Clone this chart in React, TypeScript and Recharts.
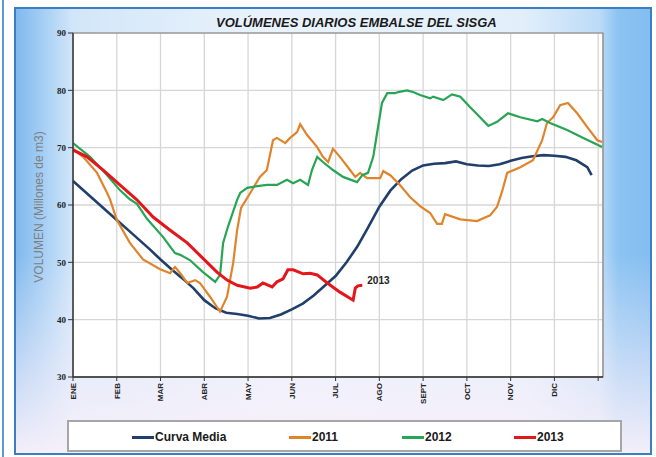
import { LineChart, Line, XAxis, YAxis, CartesianGrid, ReferenceArea } from "recharts";

// meses (eje X en fracción de mes desde 1 de enero)
const MESES = ["ENE", "FEB", "MAR", "ABR", "MAY", "JUN", "JUL", "AGO", "SEPT", "OCT", "NOV", "DIC", ""];
const X_TICKS = [0, 1, 2, 3, 4, 5, 6, 7, 8, 9, 10, 11, 12];
const Y_TICKS = [30, 40, 50, 60, 70, 80, 90];

// Curva Media
const mediaMes = [0, 0.25, 0.5, 0.75, 1, 1.25, 1.5, 1.75, 2, 2.25, 2.5, 2.75, 3, 3.25, 3.5, 3.75, 4, 4.25, 4.5, 4.75, 5, 5.25, 5.5, 5.75, 6, 6.25, 6.5, 6.75, 7, 7.25, 7.5, 7.75, 8, 8.25, 8.5, 8.75, 9, 9.25, 9.5, 9.75, 10, 10.25, 10.5, 10.75, 11, 11.25, 11.5, 11.75, 11.85];
const mediaVol = [64.2, 62.5, 60.8, 59.1, 57.4, 55.7, 54.0, 52.3, 50.5, 48.8, 47.2, 45.5, 43.4, 42.0, 41.2, 41.0, 40.7, 40.2, 40.3, 40.9, 41.8, 42.8, 44.2, 45.9, 47.6, 50.0, 52.8, 56.2, 59.7, 62.5, 64.5, 66.0, 66.9, 67.2, 67.3, 67.6, 67.1, 66.9, 66.8, 67.1, 67.7, 68.2, 68.5, 68.7, 68.6, 68.4, 67.8, 66.6, 65.2];

// 2011
const mes2011 = [0, 0.23, 0.55, 0.78, 0.85, 1.0, 1.3, 1.6, 1.99, 2.22, 2.33, 2.45, 2.61, 2.79, 2.9, 3.13, 3.36, 3.52, 3.66, 3.75, 3.84, 4.05, 4.27, 4.43, 4.57, 4.66, 4.85, 4.96, 5.12, 5.19, 5.35, 5.58, 5.71, 5.83, 5.94, 6.1, 6.33, 6.45, 6.56, 6.72, 7.02, 7.09, 7.25, 7.47, 7.7, 7.93, 8.16, 8.32, 8.43, 8.5, 8.85, 9.23, 9.53, 9.69, 9.81, 9.92, 10.22, 10.51, 10.72, 10.83, 10.97, 11.13, 11.31, 11.52, 11.75, 11.98, 12.09];
const vol2011 = [69.8, 68.4, 65.6, 62.1, 60.9, 57.4, 53.4, 50.5, 48.8, 48.1, 49.2, 48.1, 46.4, 46.9, 46.4, 44.0, 41.4, 44.0, 49.9, 55.6, 59.5, 62.1, 64.9, 66.1, 71.3, 71.7, 70.8, 71.7, 72.7, 74.1, 72.2, 70.1, 68.4, 67.5, 69.8, 68.4, 66.1, 64.9, 65.6, 64.7, 64.7, 65.9, 65.2, 63.5, 61.4, 59.8, 58.6, 56.7, 56.7, 58.4, 57.5, 57.2, 58.2, 59.7, 62.5, 65.6, 66.6, 67.8, 71.3, 74.3, 75.3, 77.4, 77.8, 76.0, 73.6, 71.3, 71.0];

// 2012
const mes2012 = [0, 0.39, 0.78, 1.07, 1.3, 1.46, 1.69, 2.06, 2.33, 2.45, 2.67, 2.97, 3.25, 3.36, 3.43, 3.54, 3.75, 3.82, 3.98, 4.21, 4.43, 4.66, 4.89, 5.03, 5.19, 5.37, 5.46, 5.58, 5.71, 5.94, 6.17, 6.49, 6.61, 6.74, 6.86, 6.97, 7.06, 7.18, 7.36, 7.43, 7.63, 7.77, 7.93, 8.16, 8.23, 8.46, 8.66, 8.85, 9.07, 9.3, 9.49, 9.69, 9.94, 10.22, 10.61, 10.72, 10.9, 11.29, 11.66, 12.09];
const vol2012 = [70.8, 68.4, 65.2, 62.6, 61.0, 60.2, 57.6, 54.4, 51.6, 51.3, 50.4, 48.3, 46.6, 47.8, 53.4, 56.2, 60.9, 62.1, 63.0, 63.3, 63.5, 63.5, 64.4, 63.8, 64.4, 63.5, 66.1, 68.4, 67.5, 66.1, 64.9, 64.0, 65.2, 65.6, 68.4, 73.6, 77.8, 79.5, 79.5, 79.7, 80.0, 79.7, 79.2, 78.6, 78.9, 78.3, 79.3, 78.9, 77.1, 75.3, 73.8, 74.5, 76.0, 75.3, 74.6, 75.0, 74.3, 73.1, 71.7, 70.1];

// 2013
const mes2013 = [0, 0.32, 0.69, 1.07, 1.46, 1.83, 2.22, 2.61, 2.97, 3.29, 3.52, 3.75, 4.05, 4.21, 4.34, 4.55, 4.66, 4.8, 4.91, 5.03, 5.26, 5.42, 5.58, 5.81, 6.1, 6.4, 6.45, 6.51, 6.61];
const vol2013 = [69.6, 68.4, 66.1, 63.5, 60.9, 57.9, 55.6, 53.4, 50.7, 48.3, 46.9, 46.0, 45.5, 45.7, 46.4, 45.7, 46.6, 47.1, 48.7, 48.7, 48.0, 48.1, 47.8, 46.4, 44.8, 43.4, 45.5, 45.9, 46.0];

const zip = (xs: number[], ys: number[]) => xs.map((m, i) => ({ m, v: ys[i] }));

const MonthTick = ({ x, y, payload }: any) => (
  <text
    x={x}
    y={y}
    transform={`rotate(-90 ${x} ${y})`}
    textAnchor="end"
    dy="0.35em"
    fontSize={8}
    fontWeight="bold"
    fontFamily="Liberation Sans, Arial, sans-serif"
    fill="#222"
  >
    {MESES[payload.value]}
  </text>
);

const last2013 = mes2013.length - 1;

const legendItems = [
  { name: "Curva Media", color: "#213f6b", left: 63 },
  { name: "2011", color: "#e0842c", left: 220 },
  { name: "2012", color: "#27a454", left: 333 },
  { name: "2013", color: "#e3161c", left: 445 },
];

export default function App() {
  return (
    <div style={{ position: "absolute", left: 0, top: 0, width: 656, height: 457, background: "#fff", overflow: "hidden" }}>
      <div style={{ position: "absolute", left: 2, top: 0, width: 2, height: 457, background: "#5b9bd5" }} />
      <div
        style={{
          position: "absolute",
          left: 14,
          top: 7,
          width: 638,
          height: 448,
          boxSizing: "border-box",
          border: "2px solid #3a7fc1",
          background:
            "linear-gradient(to bottom, rgba(255,255,255,0) 55%, rgba(247,240,250,0.97) 100%), linear-gradient(to right, #80b9ee 0%, #a2cdf4 4%, #d2e6f9 9%, #eaf3fc 40%, #e2effb 80%, #bcdbf7 92%, #8bc3f2 95%, #84bdf0 100%)",
        }}
      >
        <LineChart width={634} height={444} margin={{ top: 24, right: 47, left: 0, bottom: 0 }}>
          <CartesianGrid stroke="#d6d6d6" strokeWidth={1.3} fill="#ffffff" />
          <ReferenceArea x1={0} x2={12.11} y1={30} y2={90} fill="none" stroke="#808080" strokeWidth={1.2} />
          <XAxis
            type="number"
            dataKey="m"
            domain={[0, 12.11]}
            ticks={X_TICKS}
            interval={0}
            allowDataOverflow
            height={76}
            tick={<MonthTick />}
            tickSize={4}
            tickMargin={2}
            stroke="#333"
            axisLine={{ stroke: "#333", strokeWidth: 1.3 }}
          />
          <YAxis
            type="number"
            domain={[30, 90]}
            ticks={Y_TICKS}
            interval={0}
            width={57}
            tickSize={5}
            tickMargin={2}
            stroke="#333"
            axisLine={{ stroke: "#333", strokeWidth: 1.3 }}
            tick={{ fontSize: 9, fontWeight: "bold", fontFamily: "Liberation Serif, Times New Roman, serif", fill: "#222" }}
            label={{
              content: () => (
                <text
                  x={27}
                  y={198}
                  transform="rotate(-90 27 198)"
                  textAnchor="middle"
                  fontSize={12}
                  fontFamily="Liberation Sans, Arial, sans-serif"
                  fill="#7f7f7f"
                >
                  VOLUMEN (Millones de m3)
                </text>
              ),
            }}
          />
          <Line data={zip(mediaMes, mediaVol)} dataKey="v" stroke="#213f6b" strokeWidth={2.6} dot={false} isAnimationActive={false} />
          <Line data={zip(mes2011, vol2011)} dataKey="v" stroke="#e0842c" strokeWidth={2.2} dot={false} isAnimationActive={false} />
          <Line data={zip(mes2012, vol2012)} dataKey="v" stroke="#27a454" strokeWidth={2.2} dot={false} isAnimationActive={false} />
          <Line
            data={zip(mes2013, vol2013)}
            dataKey="v"
            stroke="#e3161c"
            strokeWidth={3}
            dot={false}
            isAnimationActive={false}
            label={(p: any) =>
              p.index === last2013 ? (
                <text x={p.x + 5} y={p.y - 1} fontSize={10} fontWeight="bold" fontFamily="Liberation Sans, Arial, sans-serif" fill="#222">
                  2013
                </text>
              ) : null
            }
          />
        </LineChart>
        <div
          style={{
            position: "absolute",
            left: 200,
            top: 6,
            whiteSpace: "nowrap",
            fontFamily: "Liberation Sans, Arial, sans-serif",
            fontWeight: "bold",
            fontStyle: "italic",
            fontSize: 13,
            color: "#1a1a1a",
          }}
        >
          VOLÚMENES DIARIOS EMBALSE DEL SISGA
        </div>
        <div
          style={{
            position: "absolute",
            left: 51,
            top: 411,
            width: 555,
            height: 32,
            boxSizing: "border-box",
            border: "2px solid #a6a6a6",
            background: "#fff",
          }}
        >
          {legendItems.map((it) => (
            <div key={it.name} style={{ position: "absolute", left: it.left, top: 6, display: "flex", alignItems: "center", height: 18 }}>
              <div style={{ width: 22, height: 3, background: it.color }} />
              <span style={{ marginLeft: 1, fontFamily: "Liberation Sans, Arial, sans-serif", fontWeight: "bold", fontSize: 12, color: "#1a1a1a" }}>
                {it.name}
              </span>
            </div>
          ))}
        </div>
      </div>
    </div>
  );
}
